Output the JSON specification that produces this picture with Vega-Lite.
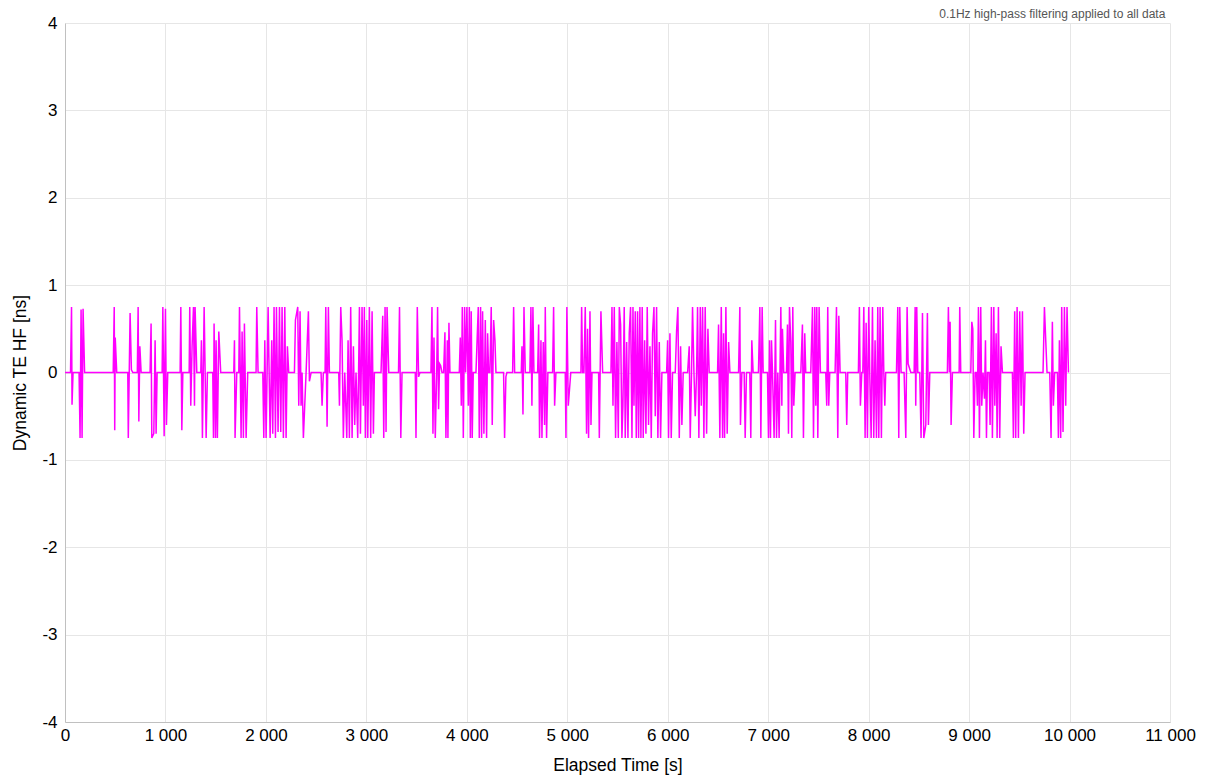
{
  "$schema": "https://vega.github.io/schema/vega-lite/v6.json",
  "width": 1105,
  "height": 699,
  "autosize": "none",
  "padding": {"left": 65, "top": 23, "right": 35, "bottom": 59},
  "background": "#ffffff",
  "config": {
    "locale": {"number": {"decimal": ".", "thousands": " ", "grouping": [3], "currency": ["", ""], "minus": "-"}},
    "view": {"stroke": null},
    "font": "Liberation Sans"
  },
  "title": {"text": "0.1Hz high-pass filtering applied to all data", "anchor": "end", "fontSize": 12, "fontWeight": "normal", "color": "#555555", "font": "Liberation Sans", "offset": 4, "dx": -30, "dy": 11},
  "data": {"values": [
{"t":0,"v":0},{"t":55,"v":0},{"t":65,"v":0.75},{"t":70,"v":-0.37},{"t":80,"v":0},{"t":140,"v":0},{"t":150,"v":-0.75},{"t":160,"v":0.72},{"t":170,"v":-0.75},{"t":180,"v":0.73},{"t":195,"v":0},{"t":480,"v":0},{"t":490,"v":0.75},{"t":495,"v":-0.66},{"t":500,"v":0.4},{"t":515,"v":0},{"t":625,"v":0},{"t":630,"v":-0.75},{"t":648,"v":0.68},{"t":661,"v":0.03},{"t":675,"v":0},{"t":720,"v":0},{"t":728,"v":0.75},{"t":735,"v":-0.56},{"t":745,"v":0.3},{"t":758,"v":0},{"t":847,"v":0},{"t":857,"v":0.56},{"t":864,"v":-0.75},{"t":884,"v":-0.7},{"t":897,"v":0.37},{"t":907,"v":-0.7},{"t":917,"v":0},{"t":967,"v":0},{"t":974,"v":0.75},{"t":987,"v":-0.73},{"t":1000,"v":0.73},{"t":1010,"v":-0.6},{"t":1023,"v":0},{"t":1146,"v":0},{"t":1153,"v":0.75},{"t":1163,"v":-0.66},{"t":1173,"v":0},{"t":1236,"v":0},{"t":1242,"v":0.75},{"t":1252,"v":-0.38},{"t":1265,"v":0.3},{"t":1279,"v":0.75},{"t":1289,"v":-0.38},{"t":1295,"v":0.75},{"t":1312,"v":0},{"t":1352,"v":0},{"t":1358,"v":0.37},{"t":1368,"v":-0.75},{"t":1385,"v":0.75},{"t":1405,"v":-0.75},{"t":1418,"v":0},{"t":1471,"v":0},{"t":1478,"v":-0.75},{"t":1484,"v":0.56},{"t":1498,"v":-0.75},{"t":1504,"v":0.37},{"t":1517,"v":-0.75},{"t":1531,"v":0.47},{"t":1550,"v":0},
{"t":1680,"v":0},{"t":1687,"v":0.37},{"t":1693,"v":-0.75},{"t":1710,"v":0},{"t":1730,"v":0},{"t":1737,"v":0.75},{"t":1753,"v":-0.75},{"t":1763,"v":0.47},{"t":1776,"v":-0.75},{"t":1786,"v":0.56},{"t":1803,"v":-0.75},{"t":1819,"v":0},{"t":1902,"v":0},{"t":1909,"v":0.75},{"t":1922,"v":0},{"t":1969,"v":0},{"t":1979,"v":-0.75},{"t":1989,"v":0.37},{"t":2002,"v":-0.75},{"t":2022,"v":0.75},{"t":2042,"v":-0.75},{"t":2058,"v":0.37},{"t":2068,"v":-0.7},{"t":2081,"v":0.75},{"t":2095,"v":-0.75},{"t":2105,"v":0.75},{"t":2121,"v":-0.68},{"t":2135,"v":0.75},{"t":2148,"v":-0.68},{"t":2161,"v":0.75},{"t":2174,"v":-0.75},{"t":2188,"v":0.75},{"t":2201,"v":-0.75},{"t":2214,"v":0.3},{"t":2227,"v":0},{"t":2284,"v":0},{"t":2294,"v":0.6},{"t":2317,"v":0.75},{"t":2327,"v":-0.38},{"t":2340,"v":0.7},{"t":2350,"v":-0.38},{"t":2360,"v":0},{"t":2373,"v":-0.75},{"t":2400,"v":0},{"t":2423,"v":0.7},{"t":2433,"v":-0.1},{"t":2450,"v":0},{"t":2549,"v":0},{"t":2559,"v":-0.38},{"t":2572,"v":0},{"t":2589,"v":0},{"t":2596,"v":0.75},{"t":2609,"v":-0.62},{"t":2622,"v":0.75},{"t":2632,"v":0},{"t":2725,"v":0},{"t":2732,"v":-0.38},{"t":2745,"v":0.75},{"t":2758,"v":0.37},{"t":2771,"v":-0.75},{"t":2785,"v":0},{"t":2805,"v":-0.75},{"t":2818,"v":0.37},{"t":2831,"v":-0.75},{"t":2844,"v":0.75},{"t":2858,"v":-0.75},{"t":2871,"v":0.3},{"t":2884,"v":-0.6},{"t":2897,"v":0},{"t":2914,"v":-0.75},{"t":2931,"v":0.75},{"t":2941,"v":-0.7},{"t":2957,"v":0.75},{"t":2970,"v":-0.38},{"t":2980,"v":0.75},{"t":2990,"v":-0.75},{"t":3004,"v":0.6},{"t":3014,"v":-0.75},{"t":3030,"v":0.75},{"t":3043,"v":-0.75},{"t":3057,"v":0.7},{"t":3070,"v":-0.7},{"t":3080,"v":0},{"t":3146,"v":0},{"t":3163,"v":0.65},{"t":3173,"v":-0.75},{"t":3186,"v":0.75},{"t":3196,"v":-0.68},{"t":3206,"v":0.75},{"t":3223,"v":0},
{"t":3320,"v":0},{"t":3330,"v":0.75},{"t":3343,"v":-0.75},{"t":3355,"v":0},{"t":3487,"v":0},{"t":3494,"v":-0.75},{"t":3507,"v":0.75},{"t":3520,"v":-0.05},{"t":3534,"v":0},{"t":3643,"v":0},{"t":3653,"v":0.75},{"t":3663,"v":-0.7},{"t":3673,"v":0.4},{"t":3686,"v":-0.75},{"t":3700,"v":0},{"t":3709,"v":0.75},{"t":3719,"v":-0.42},{"t":3729,"v":0.1},{"t":3739,"v":0.08},{"t":3753,"v":0},{"t":3769,"v":0},{"t":3782,"v":0.46},{"t":3792,"v":-0.75},{"t":3806,"v":0.37},{"t":3812,"v":-0.75},{"t":3822,"v":0.57},{"t":3832,"v":0},{"t":3925,"v":0},{"t":3935,"v":0.4},{"t":3945,"v":-0.38},{"t":3955,"v":0.75},{"t":3965,"v":-0.75},{"t":3978,"v":0.75},{"t":3988,"v":0},{"t":4001,"v":0.75},{"t":4015,"v":-0.38},{"t":4025,"v":0.75},{"t":4035,"v":-0.75},{"t":4044,"v":0.7},{"t":4054,"v":-0.75},{"t":4064,"v":0},{"t":4091,"v":0},{"t":4114,"v":0.75},{"t":4124,"v":-0.75},{"t":4137,"v":0.75},{"t":4147,"v":-0.75},{"t":4157,"v":0.7},{"t":4170,"v":-0.7},{"t":4184,"v":0.6},{"t":4197,"v":-0.75},{"t":4207,"v":0.45},{"t":4217,"v":0},{"t":4230,"v":0},{"t":4243,"v":0.75},{"t":4253,"v":-0.6},{"t":4267,"v":0.6},{"t":4280,"v":0.37},{"t":4290,"v":0},{"t":4366,"v":0},{"t":4376,"v":-0.75},{"t":4389,"v":-0.05},{"t":4399,"v":0},{"t":4456,"v":0},{"t":4466,"v":0.75},{"t":4476,"v":0},{"t":4542,"v":0},{"t":4549,"v":0.3},{"t":4559,"v":-0.48},{"t":4569,"v":0.75},{"t":4582,"v":0},{"t":4628,"v":0},{"t":4638,"v":0.75},{"t":4648,"v":-0.38},{"t":4658,"v":0.75},{"t":4668,"v":0},{"t":4705,"v":0},{"t":4715,"v":0.55},{"t":4724,"v":-0.75},{"t":4738,"v":0.37},{"t":4748,"v":-0.75},{"t":4761,"v":0.35},{"t":4774,"v":-0.6},{"t":4781,"v":0.75},{"t":4794,"v":-0.75},{"t":4807,"v":0},{"t":4854,"v":0},{"t":4864,"v":0.75},{"t":4874,"v":-0.38},{"t":4887,"v":0},{"t":4980,"v":0},{"t":4987,"v":-0.75},{"t":4996,"v":0.75},{"t":5010,"v":-0.38},{"t":5035,"v":0},
{"t":5136,"v":0},{"t":5143,"v":0.75},{"t":5153,"v":0},{"t":5166,"v":0},{"t":5179,"v":0.75},{"t":5192,"v":-0.7},{"t":5202,"v":0.5},{"t":5212,"v":-0.75},{"t":5226,"v":0.7},{"t":5236,"v":-0.6},{"t":5246,"v":0},{"t":5312,"v":0},{"t":5319,"v":-0.75},{"t":5335,"v":0.7},{"t":5352,"v":0},{"t":5435,"v":0},{"t":5445,"v":0.75},{"t":5455,"v":-0.38},{"t":5468,"v":0.75},{"t":5481,"v":-0.75},{"t":5494,"v":0.35},{"t":5508,"v":-0.75},{"t":5518,"v":0.75},{"t":5531,"v":0.55},{"t":5544,"v":-0.75},{"t":5554,"v":-0.38},{"t":5567,"v":0.75},{"t":5577,"v":-0.75},{"t":5591,"v":0.35},{"t":5604,"v":-0.75},{"t":5617,"v":0.45},{"t":5630,"v":0.75},{"t":5644,"v":-0.75},{"t":5654,"v":0.75},{"t":5664,"v":-0.38},{"t":5677,"v":0.7},{"t":5687,"v":-0.75},{"t":5700,"v":0.7},{"t":5710,"v":-0.75},{"t":5723,"v":0.75},{"t":5733,"v":-0.75},{"t":5746,"v":0.75},{"t":5756,"v":-0.75},{"t":5770,"v":0.37},{"t":5783,"v":-0.7},{"t":5796,"v":0.75},{"t":5809,"v":-0.6},{"t":5823,"v":0.3},{"t":5836,"v":-0.75},{"t":5849,"v":0.45},{"t":5863,"v":0.75},{"t":5876,"v":-0.5},{"t":5889,"v":0.75},{"t":5902,"v":-0.75},{"t":5916,"v":0.35},{"t":5929,"v":-0.75},{"t":5942,"v":0},{"t":5989,"v":0},{"t":5999,"v":0.37},{"t":6008,"v":-0.75},{"t":6022,"v":0.45},{"t":6035,"v":-0.75},{"t":6048,"v":0},{"t":6075,"v":0},{"t":6088,"v":0.47},{"t":6101,"v":0.75},{"t":6115,"v":-0.75},{"t":6128,"v":0.3},{"t":6141,"v":-0.6},{"t":6154,"v":0},{"t":6198,"v":0},{"t":6214,"v":0.3},{"t":6224,"v":-0.75},{"t":6237,"v":0},{"t":6247,"v":0.75},{"t":6261,"v":0},{"t":6274,"v":-0.5},{"t":6287,"v":0},{"t":6297,"v":0.75},{"t":6310,"v":-0.75},{"t":6324,"v":0.75},{"t":6334,"v":-0.38},{"t":6347,"v":0.75},{"t":6360,"v":-0.75},{"t":6373,"v":0.75},{"t":6387,"v":-0.7},{"t":6400,"v":0.5},{"t":6413,"v":0},{"t":6496,"v":0},{"t":6506,"v":0.55},{"t":6519,"v":-0.75},{"t":6533,"v":0.75},{"t":6546,"v":-0.75},{"t":6556,"v":0.45},{"t":6566,"v":-0.75},{"t":6579,"v":0.75},{"t":6592,"v":-0.7},{"t":6606,"v":0.35},{"t":6619,"v":0},
{"t":6705,"v":0},{"t":6718,"v":0.75},{"t":6724,"v":-0.6},{"t":6738,"v":0},{"t":6761,"v":0},{"t":6771,"v":-0.75},{"t":6784,"v":0},{"t":6817,"v":0},{"t":6827,"v":-0.75},{"t":6837,"v":0.37},{"t":6850,"v":0},{"t":6903,"v":0},{"t":6917,"v":0.75},{"t":6927,"v":-0.75},{"t":6940,"v":0.75},{"t":6950,"v":0},{"t":6993,"v":0},{"t":7003,"v":-0.75},{"t":7013,"v":0.37},{"t":7023,"v":-0.75},{"t":7033,"v":0.37},{"t":7043,"v":0},{"t":7059,"v":-0.75},{"t":7073,"v":0.6},{"t":7083,"v":-0.75},{"t":7096,"v":0},{"t":7109,"v":-0.75},{"t":7126,"v":0.75},{"t":7136,"v":-0.38},{"t":7142,"v":0.5},{"t":7155,"v":0},{"t":7182,"v":0},{"t":7192,"v":0.55},{"t":7202,"v":-0.7},{"t":7212,"v":0.75},{"t":7225,"v":0.35},{"t":7235,"v":-0.75},{"t":7245,"v":0.75},{"t":7255,"v":-0.38},{"t":7268,"v":0},{"t":7325,"v":0},{"t":7341,"v":0.55},{"t":7351,"v":-0.75},{"t":7364,"v":0.45},{"t":7374,"v":0},{"t":7424,"v":0},{"t":7441,"v":0.75},{"t":7451,"v":-0.75},{"t":7464,"v":0.75},{"t":7474,"v":-0.38},{"t":7484,"v":0.75},{"t":7494,"v":-0.75},{"t":7507,"v":0.75},{"t":7520,"v":0},{"t":7573,"v":0},{"t":7583,"v":-0.38},{"t":7593,"v":0.75},{"t":7603,"v":-0.38},{"t":7613,"v":0},{"t":7666,"v":0},{"t":7680,"v":0.75},{"t":7693,"v":-0.75},{"t":7703,"v":0.65},{"t":7716,"v":0},{"t":7772,"v":0},{"t":7782,"v":-0.6},{"t":7792,"v":0},{"t":7898,"v":0},{"t":7908,"v":0.75},{"t":7918,"v":-0.38},{"t":7932,"v":0},{"t":7942,"v":0},{"t":7952,"v":0.75},{"t":7965,"v":-0.75},{"t":7975,"v":0.57},{"t":7988,"v":-0.75},{"t":8001,"v":0.75},{"t":8011,"v":0},{"t":8025,"v":-0.75},{"t":8038,"v":0.75},{"t":8051,"v":-0.75},{"t":8064,"v":0.37},{"t":8078,"v":-0.75},{"t":8091,"v":0.75},{"t":8101,"v":-0.75},{"t":8114,"v":0.75},{"t":8127,"v":-0.75},{"t":8141,"v":0.75},{"t":8151,"v":0},{"t":8161,"v":-0.38},{"t":8170,"v":0},{"t":8277,"v":0},{"t":8290,"v":0.75},{"t":8300,"v":-0.75},{"t":8310,"v":0.75},{"t":8323,"v":0},{"t":8353,"v":0},{"t":8370,"v":-0.75},{"t":8383,"v":0.75},{"t":8393,"v":0.1},
{"t":8420,"v":0},{"t":8453,"v":0},{"t":8463,"v":0.75},{"t":8469,"v":-0.38},{"t":8479,"v":0.75},{"t":8489,"v":0},{"t":8509,"v":0},{"t":8522,"v":-0.75},{"t":8536,"v":0.68},{"t":8549,"v":-0.75},{"t":8569,"v":-0.6},{"t":8585,"v":0.68},{"t":8595,"v":-0.6},{"t":8609,"v":0},{"t":8784,"v":0},{"t":8794,"v":0.75},{"t":8804,"v":0},{"t":8811,"v":0.58},{"t":8821,"v":-0.6},{"t":8834,"v":0},{"t":8901,"v":0},{"t":8907,"v":0.75},{"t":8917,"v":0},{"t":9017,"v":0},{"t":9027,"v":0.58},{"t":9037,"v":0.5},{"t":9047,"v":-0.75},{"t":9060,"v":0},{"t":9073,"v":0},{"t":9083,"v":-0.38},{"t":9093,"v":0.75},{"t":9103,"v":-0.75},{"t":9116,"v":0.75},{"t":9126,"v":-0.38},{"t":9139,"v":0},{"t":9153,"v":-0.3},{"t":9163,"v":0.37},{"t":9173,"v":-0.75},{"t":9183,"v":0},{"t":9199,"v":0},{"t":9209,"v":-0.6},{"t":9222,"v":0.75},{"t":9232,"v":-0.75},{"t":9246,"v":0.75},{"t":9256,"v":-0.38},{"t":9269,"v":0.45},{"t":9279,"v":-0.75},{"t":9292,"v":0.75},{"t":9305,"v":-0.75},{"t":9318,"v":0.3},{"t":9332,"v":0},{"t":9431,"v":0},{"t":9441,"v":-0.75},{"t":9454,"v":0.7},{"t":9464,"v":-0.75},{"t":9478,"v":0.75},{"t":9491,"v":-0.75},{"t":9504,"v":0.7},{"t":9518,"v":-0.38},{"t":9531,"v":0.7},{"t":9544,"v":-0.7},{"t":9557,"v":0},{"t":9736,"v":0},{"t":9750,"v":0.75},{"t":9763,"v":0.37},{"t":9776,"v":0},{"t":9803,"v":0},{"t":9816,"v":-0.75},{"t":9829,"v":0.58},{"t":9839,"v":-0.38},{"t":9852,"v":0},{"t":9879,"v":0},{"t":9889,"v":-0.75},{"t":9899,"v":0.37},{"t":9912,"v":-0.75},{"t":9922,"v":0.75},{"t":9935,"v":-0.68},{"t":9949,"v":0.75},{"t":9962,"v":-0.38},{"t":9975,"v":0.75},{"t":9989,"v":0}
  ]},
  "mark": {"type": "line", "color": "#ff00ff", "strokeWidth": 1.5, "interpolate": "linear"},
  "encoding": {
    "x": {
      "field": "t", "type": "quantitative",
      "scale": {"domain": [0, 11000], "nice": false, "zero": false},
      "axis": {
        "title": "Elapsed Time [s]", "values": [0,1000,2000,3000,4000,5000,6000,7000,8000,9000,10000,11000],
        "format": ",d", "labelFontSize": 17, "labelColor": "#000000", "labelFont": "Liberation Sans",
        "ticks": false, "labelPadding": 5, "labelFlush": false, "labelOverlap": false,
        "domainColor": "#c0c0c0", "domainWidth": 1, "gridColor": "#e6e6e6", "grid": true,
        "titleFontSize": 17.5, "titleFontWeight": "normal", "titleColor": "#000000", "titleFont": "Liberation Sans", "titlePadding": 13
      }
    },
    "y": {
      "field": "v", "type": "quantitative",
      "scale": {"domain": [-4, 4], "nice": false, "zero": false},
      "axis": {
        "title": "Dynamic TE HF [ns]", "values": [-4,-3,-2,-1,0,1,2,3,4],
        "format": "d", "labelFontSize": 17, "labelColor": "#000000", "labelFont": "Liberation Sans",
        "ticks": false, "labelPadding": 8, "labelFlush": false, "labelOverlap": false,
        "domainColor": "#c0c0c0", "domainWidth": 1, "gridColor": "#e6e6e6", "grid": true,
        "titleFontSize": 17.5, "titleFontWeight": "normal", "titleColor": "#000000", "titleFont": "Liberation Sans", "titlePadding": 12
      }
    }
  }
}
